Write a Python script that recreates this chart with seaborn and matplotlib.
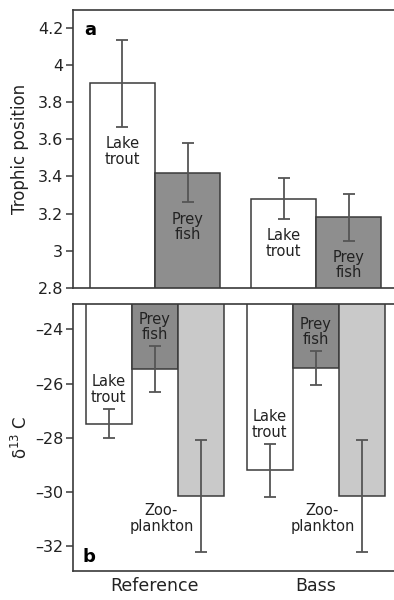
import numpy as np
import pandas as pd
import matplotlib
matplotlib.use("Agg")
import matplotlib.pyplot as plt
from matplotlib.ticker import FuncFormatter, FixedLocator
import seaborn as sns

# ---- data ----
sites = ["Reference", "Bass"]
taxa_a = ["Lake trout", "Prey fish"]
labels_a = ["Lake\ntrout", "Prey\nfish"]
tp_mean = {"Reference": [3.90, 3.42], "Bass": [3.28, 3.18]}
tp_err = {"Reference": [0.235, 0.16], "Bass": [0.11, 0.125]}

taxa_b = ["Lake trout", "Prey fish", "Zooplankton"]
labels_b = ["Lake\ntrout", "Prey\nfish", "Zoo-\nplankton"]
d13c_mean = {"Reference": [-27.48, -25.48, -30.17], "Bass": [-29.21, -25.44, -30.17]}
d13c_err = {"Reference": [0.55, 0.85, 2.07], "Bass": [0.98, 0.63, 2.07]}

yticks_a = [2.8, 3.0, 3.2, 3.4, 3.6, 3.8, 4.0, 4.2]
yticks_b = [-32, -30, -28, -26, -24]

sns.set_theme(style="white")
plt.rcParams["font.family"] = ["DejaVu Sans"]

DARK = "#3a3a3a"
TXT = "#222222"

fig = plt.figure(figsize=(3.94, 6.0), dpi=100)
axa = fig.add_axes([73 / 394, 1 - 288 / 600, 1 - 73 / 394, (288 - 10) / 600])
axb = fig.add_axes([73 / 394, 1 - 571 / 600, 1 - 73 / 394, (571 - 304) / 600])


def build(means, errs, taxa, col):
    rows = []
    for s in sites:
        for t, m, e in zip(taxa, means[s], errs[s]):
            rows.append({"site": s, "taxon": t, col: m, "err": e})
    return pd.DataFrame(rows)


dfa = build(tp_mean, tp_err, taxa_a, "val")
dfb = build(d13c_mean, d13c_err, taxa_b, "val")


def draw(ax, df, taxa, labels, palette, width, ylim, mode):
    sns.barplot(data=df, x="site", y="val", hue="taxon", order=sites,
                hue_order=taxa, palette=palette, width=width,
                edgecolor=DARK, linewidth=1.1, errorbar=None,
                legend=False, ax=ax, saturation=1)
    bars = sorted([p for p in ax.patches if p.get_width() > 0],
                  key=lambda p: p.get_x())
    recs = df.sort_values(
        by=["site", "taxon"],
        key=lambda c: c.map({**{s: i for i, s in enumerate(sites)},
                             **{t: i for i, t in enumerate(taxa)}})
    ).reset_index(drop=True)
    xs = []
    for p, (_, r) in zip(bars, recs.iterrows()):
        xc = p.get_x() + p.get_width() / 2
        xs.append(xc)
        ax.errorbar(xc, r["val"], yerr=r["err"], fmt="none", ecolor="#555555",
                    elinewidth=1.3, capsize=4, capthick=1.3, zorder=5)
    for i, (_, r) in enumerate(recs.iterrows()):
        lab = labels[taxa.index(r["taxon"])]
        xc = xs[i]
        if mode == "a":
            ax.text(xc, r["val"] - r["err"] - 0.05, lab, ha="center", va="top",
                    fontsize=10.5, color=TXT, linespacing=1.05, zorder=6)
        else:
            if r["taxon"] == "Zooplankton":
                xprey = xs[i - 1]
                ax.text(xprey + 0.04, r["val"] - 0.25, lab, ha="center",
                        va="top", fontsize=10.5, color=TXT, linespacing=1.05,
                        zorder=6)
            else:
                ax.text(xc, r["val"] + r["err"] + 0.15, lab, ha="center",
                        va="bottom", fontsize=10.5, color=TXT,
                        linespacing=1.05, zorder=6)
    ax.set_ylim(*ylim)
    ax.set_xlim(-0.509, 1.484)


draw(axa, dfa, taxa_a, labels_a, ["white", "#8e8e8e"], 0.808,
     (2.8, 4.295), "a")
draw(axb, dfb, taxa_b, labels_b, ["white", "#8a8a8a", "#c9c9c9"], 0.86,
     (-32.93, -23.06), "b")

fmt = FuncFormatter(lambda v, p: (f"{v:g}").replace("-", "\u2013"))
for ax, ticks in ((axa, yticks_a), (axb, yticks_b)):
    ax.yaxis.set_major_locator(FixedLocator(ticks))
    ax.yaxis.set_major_formatter(fmt)
    for s in ("left", "top", "bottom"):
        ax.spines[s].set_visible(True)
        ax.spines[s].set_color(DARK)
        ax.spines[s].set_linewidth(1.2)
    ax.spines["right"].set_visible(False)
    ax.tick_params(axis="y", left=True, length=5, width=1.1, color=DARK,
                   labelsize=11.5, labelcolor=TXT, pad=2)
    ax.tick_params(axis="x", bottom=False, length=0)
    ax.set_xlabel("")

axa.set_xticklabels([])
axb.set_xticklabels(sites, fontsize=12.5, color=TXT)
axb.tick_params(axis="x", pad=4)

axa.set_ylabel("Trophic position", fontsize=12, color=TXT, labelpad=6)
axb.set_ylabel("δ$^{13}$ C", fontsize=12, color=TXT, labelpad=3)

axa.text(0.053, 0.928, "a", transform=axa.transAxes, ha="center",
         va="center", fontsize=13, fontweight="bold", color="black")
axb.text(0.051, 0.052, "b", transform=axb.transAxes, ha="center",
         va="center", fontsize=13, fontweight="bold", color="black")

fig.savefig("out.png", dpi=100)
